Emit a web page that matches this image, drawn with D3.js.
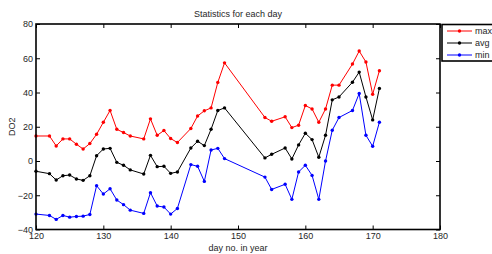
<!DOCTYPE html>
<html><head><meta charset="utf-8">
<script src="https://cdn.jsdelivr.net/npm/d3@7"></script>
<style>
html,body{margin:0;padding:0;background:#fff;overflow:hidden}
text{font-family:"Liberation Sans",Arial,sans-serif}
</style></head>
<body><svg id="c" width="492" height="254"></svg>
<script>
const days = [120,122,123,124,125,126,127,128,129,130,131,132,133,134,136,137,138,139,140,141,143,144,145,146,147,148,154,155,157,158,159,160,161,162,163,164,165,167,168,169,170,171];
const maxVals = [14.6,14.6,8.8,12.9,12.9,9.8,7.0,10.2,15.6,22.6,29.5,18.5,16.6,14.6,12.9,24.6,15.0,17.8,13.1,10.8,19.0,26.3,29.3,31.0,45.9,57.3,25.4,23.2,25.8,19.5,20.9,32.4,30.4,22.6,30.4,44.3,44.3,56.6,64.2,57.8,39.0,52.7];
const avgVals = [-6.0,-7.4,-11.1,-8.6,-8.2,-10.5,-11.3,-8.6,3.1,7.0,7.4,-0.8,-2.5,-5.2,-7.6,3.3,-3.3,-3.1,-7.2,-6.4,7.6,11.5,9.0,18.5,29.5,31.0,1.8,3.9,7.6,1.2,9.4,16.2,12.5,2.2,15.0,35.7,37.4,46.0,51.9,37.4,24.0,42.4];
const minVals = [-31.0,-31.8,-34.1,-31.8,-32.8,-32.4,-32.2,-31.2,-14.4,-19.3,-16.2,-22.8,-25.5,-28.7,-30.6,-18.5,-26.3,-26.9,-31.0,-27.7,-2.1,-3.1,-11.9,6.4,7.4,1.4,-9.4,-16.6,-13.6,-22.4,-6.4,-2.5,-8.4,-22.4,0.0,18.0,25.4,29.5,39.4,15.0,8.6,22.6];
const xTicks = [120,130,140,150,160,170,180];
const yTicks = [-40,-20,0,20,40,60,80];
const seriesNames = ["max","avg","min"];
const seriesColors = ["#ff0000","#000000","#0000ff"];
const title = "Statistics for each day";
const xLabel = "day no. in year";
const yLabel = "DO2";

const svg = d3.select("#c");
const L=36, R=440, T=24, B=229.5;
const x = d3.scaleLinear().domain([120,180]).range([L,R]);
const y = d3.scaleLinear().domain([-40,80]).range([B,T]);
const tc = "#262626";

// series
const series = [maxVals, avgVals, minVals];
series.forEach((vals,i)=>{
  const pts = days.map((d,j)=>[d,vals[j]]);
  svg.append("path").datum(pts)
    .attr("d", d3.line().x(p=>x(p[0])).y(p=>y(p[1])))
    .attr("fill","none").attr("stroke",seriesColors[i]).attr("stroke-width",1);
  svg.append("g").selectAll("circle").data(pts).join("circle")
    .attr("cx",p=>x(p[0])).attr("cy",p=>y(p[1])).attr("r",1.7)
    .attr("fill",seriesColors[i]);
});

// axes with inward ticks
const ax = (g,a)=>{g.call(a); g.select(".domain").remove(); g.selectAll("line").attr("stroke","#000"); g.selectAll("text").attr("fill",tc).attr("font-size",9);};
svg.append("g").attr("transform",`translate(0,${B})`).call(g=>ax(g,d3.axisBottom(x).tickValues(xTicks).tickSize(-4).tickPadding(3.5).tickFormat(d3.format("d"))));
svg.append("g").attr("transform",`translate(0,${T})`).call(g=>{ax(g,d3.axisTop(x).tickValues(xTicks).tickSize(-4).tickFormat(""));});
svg.append("g").attr("transform",`translate(${L},0)`).call(g=>ax(g,d3.axisLeft(y).tickValues(yTicks).tickSize(-4).tickPadding(3).tickFormat(d3.format("d"))));
svg.append("g").attr("transform",`translate(${R},0)`).call(g=>{ax(g,d3.axisRight(y).tickValues(yTicks).tickSize(-4).tickFormat(""));});

// frame
svg.append("rect").attr("x",L).attr("y",T).attr("width",R-L).attr("height",B-T)
  .attr("fill","none").attr("stroke","#000").attr("stroke-width",1.6);

// title & labels
svg.append("text").attr("x",(L+R)/2).attr("y",16.5).attr("text-anchor","middle")
  .attr("font-size",9).attr("fill",tc).text(title);
svg.append("text").attr("x",(L+R)/2).attr("y",250.5).attr("text-anchor","middle")
  .attr("font-size",9).attr("fill",tc).text(xLabel);
svg.append("text").attr("transform",`translate(15,${(T+B)/2}) rotate(-90)`).attr("text-anchor","middle")
  .attr("font-size",9).attr("fill",tc).text(yLabel);

// legend
const lg = svg.append("g");
lg.append("rect").attr("x",442).attr("y",24.5).attr("width",60).attr("height",36.5)
  .attr("fill","#fff").attr("stroke","#000").attr("stroke-width",1.6);
seriesNames.forEach((n,i)=>{
  const yy = 31 + i*12;
  lg.append("line").attr("x1",447).attr("x2",472).attr("y1",yy).attr("y2",yy)
    .attr("stroke",seriesColors[i]).attr("stroke-width",1);
  lg.append("circle").attr("cx",459.5).attr("cy",yy).attr("r",1.7).attr("fill",seriesColors[i]);
  lg.append("text").attr("x",475).attr("y",yy+3.2).attr("font-size",9).attr("fill",tc).text(n);
});
</script></body></html>
